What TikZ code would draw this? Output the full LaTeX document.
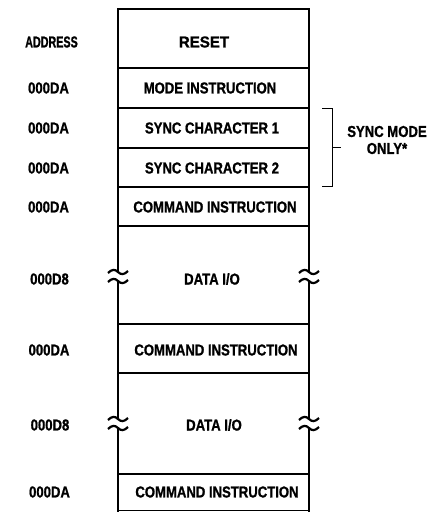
\documentclass[tikz,border=0pt]{standalone}
\usepackage{fontspec}
\setmainfont[FakeStretch=0.83,FakeBold=1]{Liberation Sans}
\begin{document}
\begin{tikzpicture}[x=1pt,y=-1pt,
  lbl/.style={font=\fontsize{15.8}{17}\selectfont\bfseries, inner sep=0pt},
  heavy/.style={line width=2.6pt},
  divider/.style={line width=1.6pt},
  thin/.style={line width=1pt}]
\useasboundingbox (0,0) rectangle (430,512);
% top border
\draw[heavy, line cap=rect] (118,9) -- (309,9);
% left and right walls with breaks
\foreach \x in {118,309}{
  \draw[heavy] (\x,9) -- (\x,272);
  \draw[heavy] (\x,281) -- (\x,419);
  \draw[heavy] (\x,428) -- (\x,512);
  \foreach \y in {272,281,419,428}{
    \draw[line width=2.2pt] (\x-10,\y+1) .. controls (\x-6,\y-3) and (\x-3,\y-3) .. (\x,\y) .. controls (\x+3,\y+3) and (\x+6,\y+3) .. (\x+10,\y-1);
  }
}
% dividers
\foreach \y in {68,108,148,187,226,324,373,474}{
  \draw[divider] (118,\y) -- (309,\y);
}
\draw[thin] (118,510.5) -- (309,510.5);
% row texts
\node[lbl] (reset) at (204,42) {\scalebox{1.15}[1]{RESET}};
\node[lbl] (mode) at (210,88) {MODE INSTRUCTION};
\node[lbl] (sync1) at (212,128) {SYNC CHARACTER 1};
\node[lbl] (sync2) at (212,168) {SYNC CHARACTER 2};
\node[lbl] (cmd1) at (215,207) {COMMAND INSTRUCTION};
\node[lbl] (data1) at (212,279) {DATA I/O};
\node[lbl] (cmd2) at (216,350) {COMMAND INSTRUCTION};
\node[lbl] (data2) at (214,425) {DATA I/O};
\node[lbl] (cmd3) at (217,492) {COMMAND INSTRUCTION};
% addresses
\node[lbl] (addr) at (51.5,42) {\scalebox{0.82}[1]{ADDRESS}};
\node[lbl] (a1) at (48.5,88) {000DA};
\node[lbl] (a2) at (48.5,128) {000DA};
\node[lbl] (a3) at (48.5,168) {000DA};
\node[lbl] (a4) at (48.5,207) {000DA};
\node[lbl] (a5) at (49.5,279) {000D8};
\node[lbl] (a6) at (49,350) {000DA};
\node[lbl] (a7) at (50,425) {000D8};
\node[lbl] (a8) at (49.5,492) {000DA};
% bracket
\coordinate (bt) at (322,108);
\coordinate (bb) at (322,186);
\coordinate (bm) at (341,147);
\draw[thin] (bt) -- (332,108) -- (332,186) -- (bb);
\draw[thin] (332,147) -- (bm);
\node[lbl, align=center] (syncmode) at (387,140) {SYNC MODE\\[0pt]ONLY*};
\end{tikzpicture}
\end{document}
